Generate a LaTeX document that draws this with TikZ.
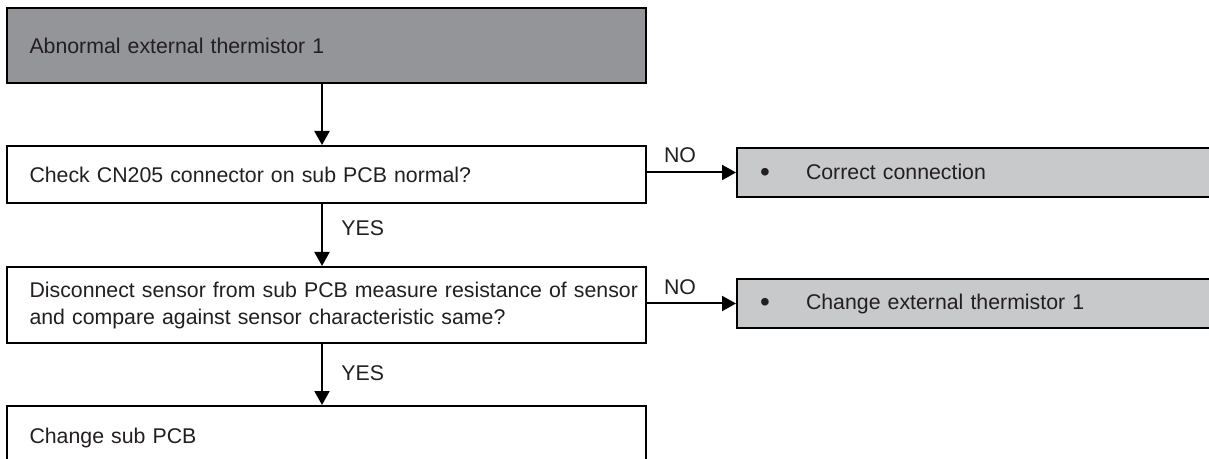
\documentclass[tikz,border=0pt]{standalone}
\usepackage{fontspec}
\setmainfont{Liberation Sans}
\usetikzlibrary{arrows.meta,calc}
\definecolor{darkfill}{HTML}{939598}
\definecolor{lightfill}{HTML}{C8C9CB}
\definecolor{txt}{HTML}{231F20}
\newcommand{\bul}{\makebox[23pt][l]{\raisebox{-0.2ex}{\fontsize{14}{14}\selectfont •}}}
\begin{document}
\begin{tikzpicture}[x=0.5pt,y=-0.5pt,
  every node/.style={font=\fontsize{10.65}{13.5}\selectfont, text=txt},
  leftbox/.style={draw=black, line width=1pt, anchor=north west, align=left,
    text width=297pt, inner xsep=11pt, inner ysep=0pt, minimum width=319.5pt},
  rightbox/.style={draw=black, line width=1pt, fill=lightfill, anchor=north west,
    align=left, text width=220pt, inner xsep=11.5pt, inner ysep=0pt,
    minimum width=243pt, minimum height=24.5pt},
  arr/.style={line width=1pt, -{Triangle[length=7pt,width=7.5pt]}},
  lbl/.style={inner sep=0pt}
]
\clip (0,0) rectangle (1209,459);
\fill[white] (0,0) rectangle (1209,459);
\coordinate (ax) at (322,0);

\node[leftbox, fill=darkfill, minimum height=37.5pt] (b1) at (6,7) {Abnormal external thermistor 1};
\node[leftbox, minimum height=28.5pt] (b2) at (6,145) {Check CN205 connector on sub PCB normal?};
\node[leftbox, minimum height=38pt] (b3) at (6,266) {\mbox{Disconnect sensor from sub PCB measure resistance of sensor}\\\mbox{and compare against sensor characteristic same?}};
\node[leftbox, minimum height=56pt] (b4) at (6,405) {Change sub PCB\\[13pt]\mbox{}};

\node[rightbox] (r1) at (736,147) {\bul Correct connection};
\node[rightbox] (r2) at (736,278) {\bul Change external thermistor 1};

\draw[arr] (b1.south -| ax) -- (b2.north -| ax);
\draw[arr] (b2.south -| ax) -- (b3.north -| ax);
\draw[arr] (b3.south -| ax) -- (b4.north -| ax);
\draw[arr] (r1.west -| b2.east) -- (r1.west);
\draw[arr] (r2.west -| b3.east) -- (r2.west);

\node[lbl] (no1) at (680,155) {NO};
\node[lbl] (no2) at (680,287) {NO};
\node[lbl, anchor=west] (yes1) at (341,228) {YES};
\node[lbl, anchor=west] (yes2) at (341,373) {YES};
\end{tikzpicture}
\end{document}
